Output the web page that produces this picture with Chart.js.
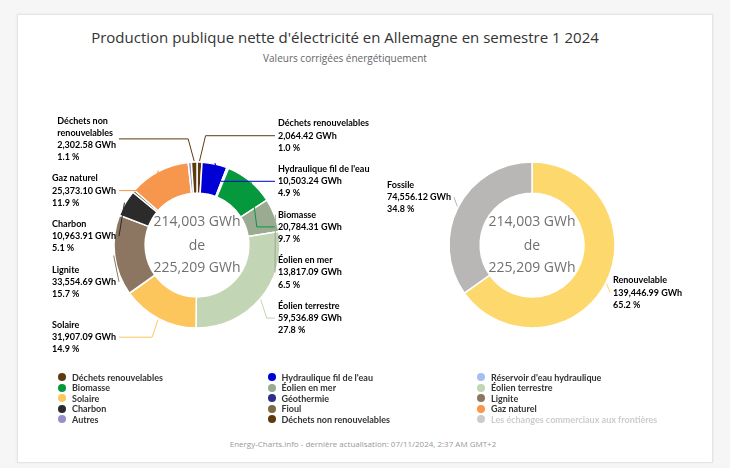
<!DOCTYPE html>
<html lang="fr">
<head>
<meta charset="utf-8">
<title>Production publique nette d'électricité en Allemagne</title>
<script src="https://cdn.jsdelivr.net/npm/chart.js@4.4.1/dist/chart.umd.min.js"></script>
<style>
    body {
        margin: 0;
        width: 730px;
        height: 468px;
        background: #f6f6f6;
        position: relative;
        overflow: hidden;
        font-family: 'Open Sans', sans-serif;
    }

    #carte {
        position: absolute;
        left: 17px;
        top: 14px;
        width: 694px;
        height: 447px;
        background: #fff;
        border: 1px solid #e4e4e4;
        box-shadow: 0 0 3px rgba(0, 0, 0, 0.06);
    }

    #titre {
        position: absolute;
        left: 0;
        top: 26px;
        width: 690px;
        text-align: center;
        font-size: 15px;
        line-height: 22px;
        color: #333;
    }

    #sous_titre {
        position: absolute;
        left: 0;
        top: 51px;
        width: 690px;
        text-align: center;
        font-size: 10px;
        line-height: 14px;
        color: #666;
    }

    .zone {
        position: absolute;
        top: 110px;
        width: 354px;
        height: 270px;
    }

    #legende {
        position: absolute;
        left: 58px;
        top: 372px;
        display: grid;
        grid-template-columns: 209.5px 209.5px 209.5px;
        grid-auto-rows: 10.5px;
        font-family: Lato, sans-serif;
        font-weight: bold;
        font-size: 9px;
        color: #333;
    }

    .element {
        display: flex;
        align-items: center;
        white-space: nowrap;
        cursor: pointer;
    }

    .element.cache {
        color: #cccccc;
    }

    .puce {
        display: inline-block;
        width: 8px;
        height: 8px;
        border-radius: 50%;
        margin-right: 6px;
    }

    #pied {
        position: absolute;
        left: 0;
        top: 437px;
        width: 726px;
        text-align: center;
        font-size: 8px;
        line-height: 14px;
        color: #999;
    }
</style>
</head>
<body>
<div id="carte"></div>
<div id="titre">Production publique nette d'électricité en Allemagne en semestre 1 2024</div>
<div id="sous_titre">Valeurs corrigées énergétiquement</div>
<div class="zone" style="left: 20px;"><canvas id="graficoSources"></canvas></div>
<div class="zone" style="left: 355px;"><canvas id="graficoTypes"></canvas></div>
<div id="legende"></div>
<div id="pied">Energy-Charts.info - dernière actualisation: 07/11/2024, 2:37 AM GMT+2</div>

<script>
// sources d'énergie (GWh, semestre 1 2024)
var sources = [
    'Déchets renouvelables', "Hydraulique fil de l'eau", "Réservoir d'eau hydraulique",
    'Biomasse', 'Éolien en mer', 'Éolien terrestre',
    'Solaire', 'Géothermie', 'Lignite',
    'Charbon', 'Fioul', 'Gaz naturel',
    'Autres', 'Déchets non renouvelables', 'Les échanges commerciaux aux frontières'
];
var valeursSources = [
    2064.42, 10503.24, 735.10,
    20784.31, 13817.09, 59536.89,
    31907.09, 98.85, 33554.69,
    10963.91, 1052.40, 25373.10,
    1309.44, 2302.58, 11205.90
];
var couleursSources = [
    '#5e3a12', '#0000d4', '#a5bff3',
    '#05983c', '#9aab92', '#c2d5b4',
    '#fdc65c', '#2d2f8c', '#8c7661',
    '#2b2b2b', '#7c6a47', '#f7964d',
    '#978fca', '#5c3a0e', '#c9cdd3'
];
var sourcesCachees = ['Les échanges commerciaux aux frontières'];

// renouvelable / fossile
var types = ['Renouvelable', 'Fossile'];
var valeursTypes = [139446.99, 74556.12];
var couleursTypes = ['#fdd86c', '#b9b7b5'];

var totalBrut = valeursSources.reduce((s, v) => s + v, 0);

function formatGWh(v, dec) {
    return v.toLocaleString('en-US', { minimumFractionDigits: dec, maximumFractionDigits: dec });
}

function totalVisible(chart) {
    let t = 0;
    chart.data.datasets[0].data.forEach((v, i) => {
        if (chart.getDataVisibility(i)) t += v;
    });
    return t;
}

function decouper(ctx, texte, largeur) {
    let mots = texte.split(' ');
    let lignes = [];
    let ligne = '';
    mots.forEach(m => {
        let essai = ligne ? ligne + ' ' + m : m;
        if (ligne && ctx.measureText(essai).width > largeur) {
            lignes.push(ligne);
            ligne = m;
        } else {
            ligne = essai;
        }
    });
    lignes.push(ligne);
    return lignes;
}

// répartition des étiquettes sur un côté (boîtes qui se chevauchent -> groupe)
function repartir(boites, longueur) {
    boites.sort((p, q) => p.cible - q.cible);
    let groupes = boites.map(b => ({ taille: b.taille, cibles: [b.cible], membres: [b] }));
    let chevauche = true;
    while (chevauche) {
        groupes.forEach(g => {
            let c = (Math.min(...g.cibles) + Math.max(...g.cibles)) / 2;
            g.pos = Math.min(Math.max(c - g.taille / 2, 0), longueur - g.taille);
        });
        chevauche = false;
        for (let k = groupes.length - 1; k > 0; k--) {
            let g0 = groupes[k - 1], g1 = groupes[k];
            if (g0.pos + g0.taille > g1.pos) {
                g0.taille += g1.taille;
                g0.cibles = g0.cibles.concat(g1.cibles);
                g0.membres = g0.membres.concat(g1.membres);
                groupes.splice(k, 1);
                chevauche = true;
            }
        }
    }
    groupes.forEach(g => {
        let y = g.pos;
        g.membres.forEach(b => { b.haut = y; y += b.taille; });
    });
}

const etiquettes = {
    id: 'etiquettes',
    afterDatasetsDraw(chart, args, opts) {
        const ctx = chart.ctx;
        const meta = chart.getDatasetMeta(0);
        const valeurs = chart.data.datasets[0].data;
        const noms = chart.data.labels;
        const couleurs = chart.data.datasets[0].backgroundColor;
        const total = totalVisible(chart);
        const hLigne = 12.2;
        let gauche = [], droite = [];

        ctx.save();
        ctx.font = 'bold 9px Lato';
        meta.data.forEach((arc, i) => {
            if (!chart.getDataVisibility(i) || valeurs[i] / total < opts.seuil) return;
            const a = arc.getProps(['x', 'y', 'startAngle', 'endAngle', 'outerRadius'], true);
            const milieu = (a.startAngle + a.endAngle) / 2;
            const aDroite = Math.cos(milieu) >= 0;
            let lignes = decouper(ctx, noms[i], aDroite ? 150 : 72);
            lignes.push(formatGWh(valeurs[i], 2) + ' GWh');
            lignes.push((valeurs[i] / total * 100).toFixed(1) + ' %');
            const boite = {
                i: i, a: a, milieu: milieu, lignes: lignes,
                taille: lignes.length * hLigne + 9,
                cible: a.y + Math.sin(milieu) * (a.outerRadius + opts.distance)
            };
            (aDroite ? droite : gauche).push(boite);
        });
        repartir(droite, chart.height);
        repartir(gauche, chart.height);

        const dessiner = (b, cote) => {
            const a = b.a;
            const larg = Math.max(...b.lignes.map(l => ctx.measureText(l).width));
            const xTexte = cote > 0 ? a.x + a.outerRadius - 2 : a.x - a.outerRadius + 2 - larg;
            const yc = b.haut + b.taille / 2;

            // connecteur
            const ax = a.x + Math.cos(b.milieu) * (a.outerRadius + 1);
            const ay = a.y + Math.sin(b.milieu) * (a.outerRadius + 1);
            const ex = cote > 0 ? xTexte - 3 : xTexte + larg + 3;
            ctx.strokeStyle = couleurs[b.i];
            ctx.lineWidth = 1;
            ctx.beginPath();
            ctx.moveTo(ex, yc);
            if ((ex - ax) * cote > 6) ctx.lineTo(ax + cote * 6, yc);
            ctx.lineTo(ax, ay);
            ctx.stroke();

            ctx.fillStyle = '#000';
            ctx.textAlign = 'left';
            ctx.textBaseline = 'middle';
            b.lignes.forEach((l, k) => {
                ctx.fillText(l, xTexte, b.haut + 4.5 + hLigne / 2 + k * hLigne);
            });
        };
        droite.forEach(b => dessiner(b, 1));
        gauche.forEach(b => dessiner(b, -1));
        ctx.restore();
    }
};

const texteCentre = {
    id: 'texteCentre',
    afterDraw(chart, args, opts) {
        const arc = chart.getDatasetMeta(0).data[0];
        if (!arc) return;
        const ctx = chart.ctx;
        const brut = opts.totalBrut || chart.data.datasets[0].data.reduce((s, v) => s + v, 0);
        ctx.save();
        ctx.font = '14px "Open Sans"';
        ctx.fillStyle = '#707070';
        ctx.textAlign = 'center';
        ctx.textBaseline = 'middle';
        ctx.fillText(formatGWh(totalVisible(chart), 0) + ' GWh', arc.x, arc.y - 23);
        ctx.fillText('de', arc.x, arc.y + 1);
        ctx.fillText(formatGWh(brut, 0) + ' GWh', arc.x, arc.y + 23);
        ctx.restore();
    }
};

function optionsDonut(extra) {
    return {
        responsive: true,
        maintainAspectRatio: false,
        animation: false,
        radius: 83,
        cutout: '62.5%',
        layout: { padding: 0 },
        plugins: {
            legend: { display: false },
            tooltip: { enabled: false },
            etiquettes: { seuil: 0.009, distance: 21 },
            texteCentre: extra || {}
        }
    };
}

let graficoSources = new Chart(document.getElementById('graficoSources'), {
    type: 'doughnut',
    data: {
        labels: sources,
        datasets: [{
            data: valeursSources,
            backgroundColor: couleursSources,
            borderColor: '#ffffff',
            borderWidth: 1.5
        }]
    },
    options: optionsDonut(),
    plugins: [etiquettes, texteCentre]
});

sources.forEach((nom, i) => {
    if (sourcesCachees.includes(nom)) graficoSources.toggleDataVisibility(i);
});
graficoSources.update();

let graficoTypes = new Chart(document.getElementById('graficoTypes'), {
    type: 'doughnut',
    data: {
        labels: types,
        datasets: [{
            data: valeursTypes,
            backgroundColor: couleursTypes,
            borderColor: '#ffffff',
            borderWidth: 1.5
        }]
    },
    options: optionsDonut({ totalBrut: totalBrut }),
    plugins: [etiquettes, texteCentre]
});

// légende en 3 colonnes
function montrerLegende() {
    legende.innerHTML = '';
    sources.forEach((nom, i) => {
        let cache = !graficoSources.getDataVisibility(i);
        let el = document.createElement('div');
        el.className = 'element' + (cache ? ' cache' : '');
        el.innerHTML = `<span class="puce" style="background:${cache ? '#cccccc' : couleursSources[i]}"></span>${nom}`;
        el.onclick = function () {
            graficoSources.toggleDataVisibility(i);
            graficoSources.update();
            montrerLegende();
        };
        legende.appendChild(el);
    });
}
montrerLegende();
</script>
</body>
</html>
